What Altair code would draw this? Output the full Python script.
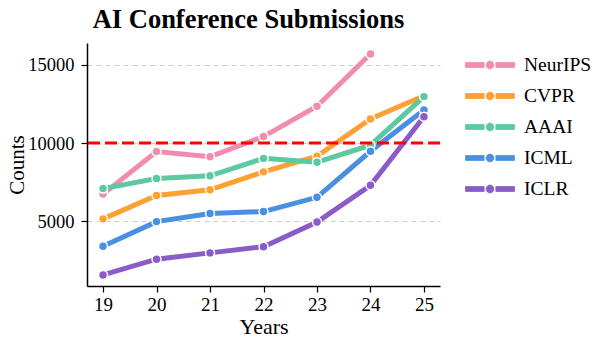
import altair as alt
import pandas as pd

years = [19, 20, 21, 22, 23, 24, 25]
conferences = ["NeurIPS", "CVPR", "AAAI", "ICML", "ICLR"]
neurips = [6743, 9454, 9122, 10411, 12345, 15671, None]
cvpr = [5165, 6656, 7015, 8161, 9155, 11532, 13008]
aaai = [7095, 7737, 7911, 9020, 8777, 9862, 12957]
icml = [3424, 4990, 5513, 5630, 6538, 9473, 12107]
iclr = [1591, 2594, 2997, 3391, 4966, 7304, 11672]
colors = ["#f08cb0", "#ffa033", "#5cc9a0", "#4a90e2", "#8a5cc9"]
threshold = 10000

series = [neurips, cvpr, aaai, icml, iclr]
rows = []
for name, vals in zip(conferences, series):
    for yr, v in zip(years, vals):
        if v is not None:
            rows.append({"Year": yr, "Count": v, "Conference": name})
df = pd.DataFrame(rows)

FONT = "Liberation Serif"

legend_path = ("M-2,-0.2 H-0.48 V0.2 H-2 Z "
               "M0.48,-0.2 H2 V0.2 H0.48 Z "
               "M-0.32,0 A0.32,0.32 0 1,0 0.32,0 A0.32,0.32 0 1,0 -0.32,0 Z")

cscale = alt.Scale(domain=conferences, range=colors)

x = alt.X("Year:Q",
          scale=alt.Scale(domain=[18.7, 25.3], nice=False, zero=False),
          axis=alt.Axis(values=years, format="d", title="Years", grid=False,
                        labelFontSize=19, titleFontSize=22, labelPadding=3,
                        titlePadding=2, tickSize=6))
y = alt.Y("Count:Q",
          scale=alt.Scale(domain=[886, 16374], nice=False, zero=False),
          axis=alt.Axis(values=[5000, 10000, 15000], format="d", title="Counts",
                        grid=True, gridDash=[5, 4], gridColor="#cccccc",
                        gridWidth=1, labelFontSize=18.5, titleFontSize=21,
                        labelPadding=7, titlePadding=0, tickSize=6))

lines = alt.Chart(df).mark_line(
    strokeWidth=5, strokeCap="round",
    point=alt.OverlayMarkDef(filled=True, size=80, stroke="white",
                             strokeWidth=1.5, opacity=1),
).encode(
    x=x, y=y,
    color=alt.Color("Conference:N", scale=cscale,
                    legend=alt.Legend(
                        title=None,
                        orient="none",
                        legendX=390,
                        legendY=9,
                        symbolType=legend_path,
                        symbolSize=600,
                        symbolStrokeColor="white",
                        symbolStrokeWidth=0.8,
                        symbolOpacity=1,
                        labelFont=FONT,
                        labelFontSize=19.5,
                        labelColor="black",
                        rowPadding=8,
                        labelOffset=21,
                    )),
    order="Year:Q")
rule = alt.Chart(pd.DataFrame({"t": [threshold]})).mark_rule(
    color="red", strokeWidth=3, strokeDash=[12, 5]).encode(y="t:Q")

chart = alt.layer(lines, rule).properties(
    width=353, height=243,
    autosize=alt.AutoSizeParams(type="none"),
    padding={"left": 79, "top": 35, "right": 152, "bottom": 52},
    title=alt.Title("AI Conference Submissions", font=FONT, fontSize=26.5,
                    fontWeight="bold", offset=10, dx=-15, color="black"),
).configure_axis(
    labelFont=FONT, titleFont=FONT, labelColor="black", titleColor="black",
    titleFontWeight="normal", domainColor="black", tickColor="black",
    domainWidth=1.5, tickWidth=1.2,
).configure_view(stroke=None)

chart.save("out.html", embed_options={"renderer": "svg", "actions": False})
